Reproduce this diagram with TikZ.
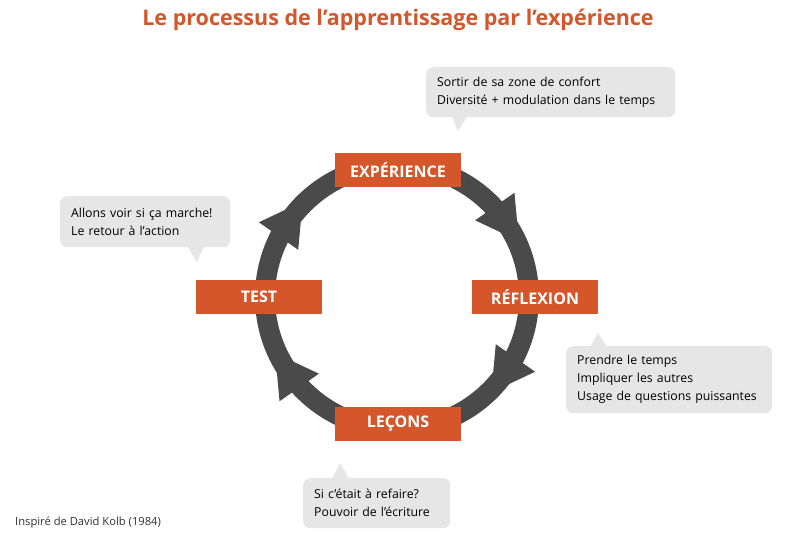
\documentclass[tikz,border=0pt]{standalone}
\usepackage{fontspec}
\setmainfont{Open Sans}
\definecolor{org}{HTML}{D4562A}
\definecolor{ring}{HTML}{4A4A4A}
\definecolor{bub}{HTML}{E6E6E6}
\begin{document}
\begin{tikzpicture}[x=1pt,y=-1pt,
  stage/.style={fill=org,text=white,font=\bfseries\fontsize{16}{18}\selectfont,minimum width=126pt,minimum height=34pt,inner sep=0pt},
  bubble/.style={fill=bub,rounded corners=7pt,align=left,font=\fontsize{12.3}{18}\selectfont,inner xsep=11pt,inner ysep=0pt,anchor=north west}]
\useasboundingbox (0,0) rectangle (793,542);
\fill[white] (0,0) rectangle (793,542);
\node[text=org,font=\bfseries\fontsize{21.5}{24}\selectfont] (title) at (398,20) {Le processus de l’apprentissage par l’expérience};
\coordinate (c) at (397,297);
\draw[ring,line width=20pt] (c) circle[radius=132];
\begin{scope}[shift={(397,297)}]
\foreach \a in {35,-35,-145,145}{
  \fill[ring,rotate=\a] (132,24) -- (108,-18) -- (156,-18) -- cycle;}
\end{scope}
\node[stage] (exp) at (398,170) {EXPÉRIENCE};
\node[stage] (ref) at (535,297) {RÉFLEXION};
\node[stage] (test) at (259,297) {TEST};
\node[stage] (lec) at (398,424) {LEÇONS};
% bubbles
\node[bubble,text width=227pt,minimum height=50pt] (b1) at (426,67) {Sortir de sa zone de confort\\Diversité + modulation dans le temps};
\fill[bub] (450,112) -- (458,131) -- (470,112) -- cycle;
\node[bubble,text width=148pt,minimum height=51pt] (b2) at (60,196) {Allons voir si ça marche!\\Le retour à l’action};
\fill[bub] (185,242) -- (197,262) -- (206,242) -- cycle;
\node[bubble,text width=184pt,minimum height=67pt] (b3) at (566,346) {Prendre le temps\\Impliquer les autres\\Usage de questions puissantes};
\fill[bub] (588,351) -- (598,333) -- (610,351) -- cycle;
\node[bubble,text width=125pt,minimum height=50pt] (b4) at (303,478) {Si c’était à refaire?\\Pouvoir de l’écriture};
\fill[bub] (330,483) -- (340,463) -- (352,483) -- cycle;
\node[anchor=west,font=\fontsize{11.2}{13}\selectfont,text=black!80,inner sep=0pt] (src) at (15,523) {Inspiré de David Kolb (1984)};
\end{tikzpicture}
\end{document}
